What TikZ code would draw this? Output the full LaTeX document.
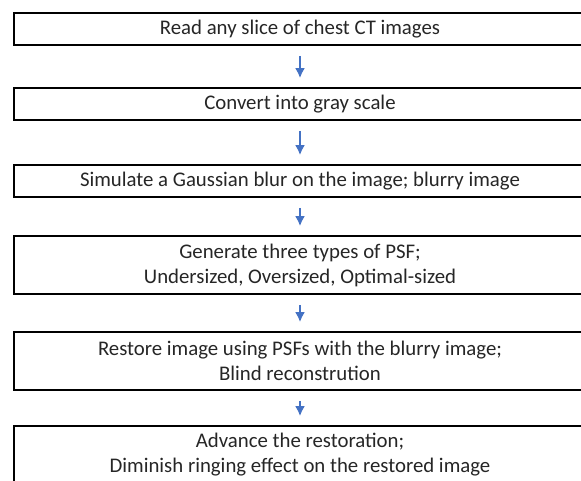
\documentclass[tikz,border=0pt]{standalone}
\usepackage{fontspec}
\setmainfont{Carlito}
\usetikzlibrary{arrows.meta}
\definecolor{flowblue}{HTML}{4472C4}
\tikzset{>=latex}
\tikzset{
    stepbox/.style={draw=black, line width=1.7pt, fill=white, minimum width=572pt, align=center, inner sep=0pt, text=black!85, font=\fontsize{20.8}{25}\selectfont},
    flowarrow/.style={-{Latex[length=10pt,width=10pt]}, line width=2.6pt, flowblue, shorten <=10pt, shorten >=9pt}
}

\begin{document}
\begin{tikzpicture}[x=1pt,y=-1pt]
    % Fix the page size and cut the boxes at the right edge
    \useasboundingbox (0,0) rectangle (581,481);
    \clip (0,0) rectangle (581,481);

    % Draw the steps of the procedure
    \node[stepbox, minimum height=32pt] (read) at (300,29) {Read any slice of chest CT images};
    \node[stepbox, minimum height=32pt] (gray) at (300,104) {Convert into gray scale};
    \node[stepbox, minimum height=32pt] (blur) at (300,181) {Simulate a Gaussian blur on the image; blurry image};
    \node[stepbox, minimum height=58pt] (psf) at (300,265) {Generate three types of PSF;\\ Undersized, Oversized, Optimal-sized};
    \node[stepbox, minimum height=58pt] (restore) at (300,361) {Restore image using PSFs with the blurry image;\\ Blind reconstrution};
    \node[stepbox, minimum height=58pt] (advance) at (300,455) {Advance the restoration;\\ Diminish ringing effect on the restored image};

    % Draw the arrows between the steps
    \draw[flowarrow] (read) -- (gray);
    \draw[flowarrow] (gray) -- (blur);
    \draw[flowarrow] (blur) -- (psf);
    \draw[flowarrow] (psf) -- (restore);
    \draw[flowarrow] (restore) -- (advance);

\end{tikzpicture}
\end{document}
